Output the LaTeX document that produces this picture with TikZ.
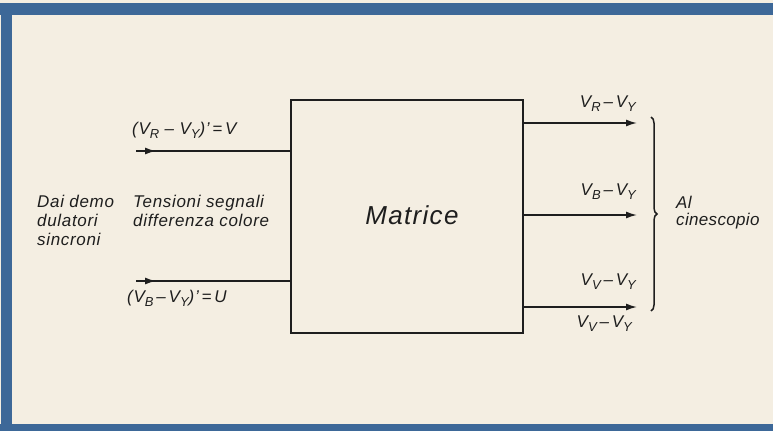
\documentclass[tikz,border=0pt]{standalone}
\usepackage{fontspec}
\setmainfont{Liberation Sans}
\usetikzlibrary{arrows.meta,decorations.pathreplacing,decorations.markings}
\definecolor{paper}{HTML}{F4EEE2}
\definecolor{frame}{HTML}{3D6898}
\definecolor{ink}{HTML}{1E1E1E}
\newcommand\lo[1]{\raisebox{-0.45ex}{\fontsize{13}{13}\selectfont #1}}
\tikzset{
  lbl/.style={font=\itshape\fontsize{17}{19}\selectfont\addfontfeature{LetterSpace=4}, text=ink, inner sep=0pt},
  wire/.style={draw=ink, line width=1.5pt},
  midarrow/.style={postaction={decorate}, decoration={markings, mark=at position #1 with {\arrow{Latex[length=11pt,width=7pt]}}}},
}
\begin{document}
\begin{tikzpicture}[x=1pt,y=-1pt]
\useasboundingbox (0,0) rectangle (773,431);
\fill[paper] (0,0) rectangle (773,431);
\fill[frame] (0,3) rectangle (773,15);
\fill[frame] (1,3) rectangle (12,431);
\fill[frame] (0,424) rectangle (773,431);
% matrix box
\node[draw=ink, line width=1.8pt, minimum width=232pt, minimum height=233pt, inner sep=0pt, anchor=north west] (M) at (290,99) {};
\node[lbl, font=\itshape\fontsize{26}{26}\selectfont\addfontfeature{LetterSpace=5}] (mt) at (412,215) {Matrice};
% inputs
\coordinate (i1) at (136,151);
\coordinate (i2) at (136,281);
\draw[wire, midarrow=0.13] (i1) -- (M.west |- i1);
\draw[wire, midarrow=0.13] (i2) -- (M.west |- i2);
% outputs
\coordinate (o1) at (637,123);
\coordinate (o2) at (637,215);
\coordinate (o3) at (637,307);
\draw[wire, -{Latex[length=11pt,width=7pt]}] (M.east |- o1) -- (o1);
\draw[wire, -{Latex[length=11pt,width=7pt]}] (M.east |- o2) -- (o2);
\draw[wire, -{Latex[length=11pt,width=7pt]}] (M.east |- o3) -- (o3);
% brace
\coordinate (b1) at (651,117);
\coordinate (b2) at (651,311);
\draw[ink, line width=1.5pt, decorate, decoration={brace, amplitude=6pt}] (b1) -- (b2);
% labels
\node[lbl, anchor=west] (l1) at (132,130) {(V\lo{R} – V\lo{Y})'\,=\,V};
\node[lbl, anchor=west] (l2) at (127,298) {(V\lo{B}\,–\,V\lo{Y})'\,=\,U};
\node[lbl, anchor=north west, align=left] (dai) at (37,195) {Dai demo\\dulatori\\sincroni};
\node[lbl, anchor=north west, align=left] (ten) at (133,195) {Tensioni segnali\\differenza colore};
\node[lbl, anchor=east] (r1) at (636,104) {V\lo{R}\,–\,V\lo{Y}};
\node[lbl, anchor=east] (r2) at (636,192) {V\lo{B}\,–\,V\lo{Y}};
\node[lbl, anchor=east] (r3) at (636,282) {V\lo{V}\,–\,V\lo{Y}};
\node[lbl, anchor=east] (r4) at (632,324) {V\lo{V}\,–\,V\lo{Y}};
\node[lbl, font=\itshape\fontsize{17}{17}\selectfont\addfontfeature{LetterSpace=2}, anchor=north west, align=left] (al) at (676,196) {Al\\cinescopio};
\end{tikzpicture}
\end{document}
